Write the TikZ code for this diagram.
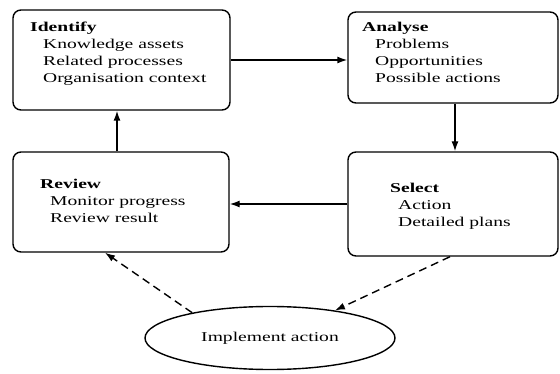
\documentclass[tikz,border=0pt]{standalone}
\usepackage{fontspec}
\setmainfont{Liberation Serif}[FakeStretch=1.45]
\usetikzlibrary{arrows.meta,shapes.geometric}

\begin{document}
\begin{tikzpicture}
    [ x=1pt, y=-1pt,
      font={\fontsize{13.5}{17}\selectfont},
      stage/.style={draw, line width=1.4pt, rounded corners=8pt, inner sep=0pt},
      stagetext/.style={anchor=base west, align=left, inner sep=0pt},
      action/.style={draw, ellipse, line width=1.4pt, inner sep=0pt},
      flow/.style={line width=1.4pt, -{Latex[length=10pt,width=7pt]}},
      plan/.style={flow, dash pattern=on 8pt off 5pt}
    ]
    \useasboundingbox (0, 0) rectangle (560, 374);

    % Stage boxes
    \node[stage, minimum width=217pt, minimum height=100pt] (identify) at (121.5, 60) {};
    \node[stage, minimum width=210pt, minimum height=91pt] (analyse) at (453, 57.5) {};
    \node[stage, minimum width=216pt, minimum height=100pt] (review) at (121, 202) {};
    \node[stage, minimum width=210pt, minimum height=104pt] (select) at (453, 204) {};

    % Box texts (anchored at the baseline of their last line)
    \node[stagetext] (identify-txt) at (30, 83)
        {\textbf{Identify}\\\hspace*{13pt}Knowledge assets\\
         \hspace*{13pt}Related processes\\\hspace*{13pt}Organisation context};
    \node[stagetext] (analyse-txt) at (362, 83)
        {\textbf{Analyse}\\\hspace*{13pt}Problems\\
         \hspace*{13pt}Opportunities\\\hspace*{13pt}Possible actions};
    \node[stagetext] (review-txt) at (40, 223)
        {\textbf{Review}\\\hspace*{10pt}Monitor progress\\
         \hspace*{10pt}Review result};
    \node[stagetext] (select-txt) at (390, 227)
        {\textbf{Select}\\\hspace*{8pt}Action\\
         \hspace*{8pt}Detailed plans};

    % Implementation
    \node[action, minimum width=250pt, minimum height=63pt] (implement) at (270, 338)
        {Implement action};

    % Cycle
    \draw[flow] (identify.east) -- (identify.east -| analyse.west);
    \draw[flow] ([xshift=2pt]analyse.south) -- ([xshift=2pt]analyse.south |- select.north);
    \draw[flow] (select.west) -- (select.west -| review.east);
    \draw[flow] ([xshift=-4pt]review.north) -- ([xshift=-4pt]review.north |- identify.south);

    % Feedback from the action
    \draw[plan] (implement.162) -- ([xshift=-16pt]review.south);
    \draw[plan] ([xshift=-3pt]select.south) -- (implement.23);

\end{tikzpicture}
\end{document}
